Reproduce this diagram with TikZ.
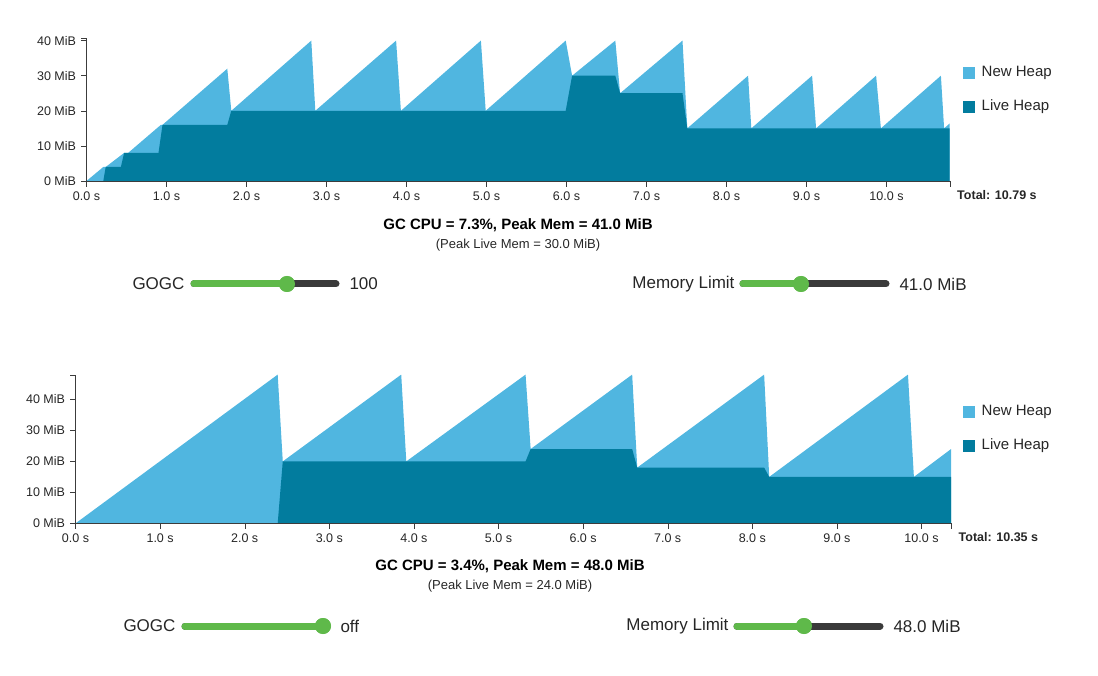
\documentclass[tikz,border=0pt]{standalone}
\usepackage{fontspec}
\setmainfont{Liberation Sans}
\usetikzlibrary{positioning}
\definecolor{newheap}{RGB}{80,182,224}
\definecolor{liveheap}{RGB}{2,124,158}
\definecolor{knob}{RGB}{95,185,74}
\definecolor{track}{RGB}{58,58,58}
\definecolor{axis}{RGB}{60,60,60}
\tikzset{
  ticklab/.style={font=\fontsize{12.5}{14}\selectfont, text=black!85},
  legsq/.style={fill=#1, minimum size=12pt, inner sep=0pt},
  legtext/.style={font=\fontsize{15}{17}\selectfont, anchor=west, text=black!85},
  title/.style={font=\bfseries\fontsize{15}{17}\selectfont},
  subtitle/.style={font=\fontsize{13}{15}\selectfont, text=black!85},
  sliderlab/.style={font=\fontsize{17}{19}\selectfont, text=black!85},
  trackline/.style={line width=7pt, line cap=round, color=#1},
  knobdot/.style={circle, fill=knob, minimum size=16pt, inner sep=0pt}
}
\begin{document}
\begin{tikzpicture}[x=1pt,y=1pt]
\useasboundingbox (0,0) rectangle (1098,-676);
% top chart, GOGC = 100
\begin{scope}[shift={(86.5,-181)}, x=80pt, y=3.51pt]
  \fill[newheap] (0,0) -- (0.21,4) -- (0.24,4) -- (0.47,8) -- (0.52,8) -- (0.93,16) -- (0.95,16)
    -- (1.76,32) -- (1.81,20) -- (2.81,40) -- (2.86,20) -- (3.87,40) -- (3.93,20) -- (4.93,40)
    -- (4.99,20) -- (5.99,40) -- (6.07,30) -- (6.61,40) -- (6.67,25) -- (7.45,40) -- (7.51,15)
    -- (8.27,30) -- (8.31,15) -- (9.07,30) -- (9.12,15) -- (9.87,30) -- (9.93,15) -- (10.68,30)
    -- (10.72,15) -- (10.79,16.4) -- (10.79,0) -- cycle;
  \fill[liveheap] (0.21,0) -- (0.24,4) -- (0.43,4) -- (0.47,8) -- (0.90,8) -- (0.95,16) -- (1.76,16)
    -- (1.81,20) -- (5.99,20) -- (6.07,30) -- (6.61,30) -- (6.67,25) -- (7.45,25) -- (7.51,15)
    -- (10.79,15) -- (10.79,0) -- cycle;
  \draw[axis] (0,0) -- (10.79,0);
  \draw[axis] (0,0) -- (0,40.6) -- ++(-6pt,0);
  \foreach \t in {0,...,10}
    \draw[axis] (\t,0) -- ++(0,-6pt) node[ticklab, below=1pt] {\t.0 s};
  \draw[axis] (10.79,0) -- ++(0,-6pt) node[ticklab, anchor=north west, font=\bfseries\fontsize{12.5}{14}\selectfont, xshift=4pt] (ttop) {Total: 10.79 s};
  \foreach \m in {0,10,...,40}
    \draw[axis] (0,\m) -- ++(-6pt,0) node[ticklab, left=1pt] {\m\ MiB};
\end{scope}
\node[legsq=newheap] (newtop) at (969,-73) {};
\node[legtext, right=3pt of newtop] {New Heap};
\node[legsq=liveheap] (livetop) at (969,-107) {};
\node[legtext, right=3pt of livetop] {Live Heap};
\node[title] (ttitle) at (518,-225) {GC CPU = 7.3\%, Peak Mem = 41.0 MiB};
\node[subtitle] (tsub) at (518,-245) {(Peak Live Mem = 30.0 MiB)};
% top sliders
\coordinate (ga) at (194,-284); \coordinate (gb) at (336,-284);
\node[knobdot] (gk) at (287,-284) {};
\draw[trackline=track] (ga) -- (gb);
\draw[trackline=knob] (ga) -- (gk.center);
\node[knobdot] at (gk) {};
\node[sliderlab, anchor=east] at (188,-284) {GOGC};
\node[sliderlab, anchor=west] at (346,-284) {100};
\coordinate (ma) at (743,-284); \coordinate (mb) at (886,-284);
\node[knobdot] (mk) at (801,-284) {};
\draw[trackline=track] (ma) -- (mb);
\draw[trackline=knob] (ma) -- (mk.center);
\node[knobdot] at (mk) {};
\node[sliderlab, anchor=east] at (738,-284) {Memory Limit};
\node[sliderlab, anchor=west] at (896,-284) {41.0 MiB};
% bottom chart, GOGC = off
\begin{scope}[shift={(75.5,-523.4)}, x=84.6pt, y=3.1pt]
  \fill[newheap] (0,0) -- (2.39,48) -- (2.45,20) -- (3.85,48) -- (3.91,20) -- (5.32,48) -- (5.38,24)
    -- (6.58,48) -- (6.64,18) -- (8.14,48) -- (8.20,15) -- (9.84,48) -- (9.91,15) -- (10.35,24)
    -- (10.35,0) -- cycle;
  \fill[liveheap] (2.39,0) -- (2.45,20) -- (5.32,20) -- (5.38,24) -- (6.58,24) -- (6.64,18)
    -- (8.14,18) -- (8.20,15) -- (10.35,15) -- (10.35,0) -- cycle;
  \draw[axis] (0,0) -- (10.35,0);
  \draw[axis] (0,0) -- (0,47.8) -- ++(-6pt,0);
  \foreach \t in {0,...,10}
    \draw[axis] (\t,0) -- ++(0,-6pt) node[ticklab, below=1pt] {\t.0 s};
  \draw[axis] (10.35,0) -- ++(0,-6pt) node[ticklab, anchor=north west, font=\bfseries\fontsize{12.5}{14}\selectfont, xshift=4pt] (tbot) {Total: 10.35 s};
  \foreach \m in {0,10,...,40}
    \draw[axis] (0,\m) -- ++(-6pt,0) node[ticklab, left=1pt] {\m\ MiB};
\end{scope}
\node[legsq=newheap] (newbot) at (969,-412) {};
\node[legtext, right=3pt of newbot] {New Heap};
\node[legsq=liveheap] (livebot) at (969,-446) {};
\node[legtext, right=3pt of livebot] {Live Heap};
\node[title] (btitle) at (510,-566) {GC CPU = 3.4\%, Peak Mem = 48.0 MiB};
\node[subtitle] (bsub) at (510,-586) {(Peak Live Mem = 24.0 MiB)};
% bottom sliders
\coordinate (ga2) at (185,-626); \coordinate (gb2) at (327,-626);
\node[knobdot] (gk2) at (323,-626) {};
\draw[trackline=track] (ga2) -- (gb2);
\draw[trackline=knob] (ga2) -- (gk2.center);
\node[knobdot] at (gk2) {};
\node[sliderlab, anchor=east] at (179,-626) {GOGC};
\node[sliderlab, anchor=west] at (337,-626) {off};
\coordinate (ma2) at (737,-626); \coordinate (mb2) at (880,-626);
\node[knobdot] (mk2) at (804,-626) {};
\draw[trackline=track] (ma2) -- (mb2);
\draw[trackline=knob] (ma2) -- (mk2.center);
\node[knobdot] at (mk2) {};
\node[sliderlab, anchor=east] at (732,-626) {Memory Limit};
\node[sliderlab, anchor=west] at (890,-626) {48.0 MiB};
\end{tikzpicture}
\end{document}
